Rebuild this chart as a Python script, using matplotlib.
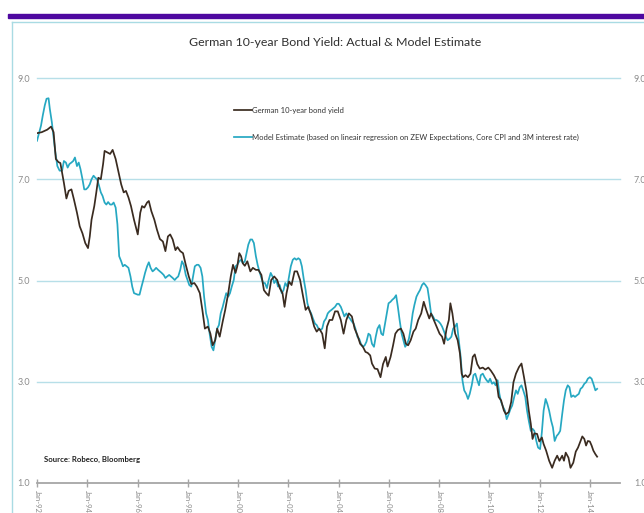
import matplotlib
matplotlib.use("Agg")
import matplotlib.pyplot as plt
from matplotlib.patches import Rectangle
from matplotlib.lines import Line2D

plt.rcParams['font.family'] = ['Lato', 'DejaVu Sans']

# German 10-year bond yield (decimal year, %)
bund_years = [
    1992.00, 1992.19, 1992.41, 1992.56, 1992.66, 1992.75, 1992.85, 1992.93, 1993.00, 1993.07,
    1993.17, 1993.26, 1993.37, 1993.47, 1993.59, 1993.70, 1993.81, 1993.92, 1994.03, 1994.10,
    1994.17, 1994.28, 1994.36, 1994.44, 1994.54, 1994.63, 1994.69, 1994.80, 1994.91, 1995.01,
    1995.13, 1995.25, 1995.35, 1995.45, 1995.54, 1995.64, 1995.74, 1995.86, 1996.01, 1996.11,
    1996.18, 1996.27, 1996.38, 1996.45, 1996.55, 1996.67, 1996.77, 1996.89, 1997.01, 1997.11,
    1997.21, 1997.30, 1997.40, 1997.51, 1997.59, 1997.70, 1997.81, 1997.92, 1998.04, 1998.14,
    1998.26, 1998.36, 1998.48, 1998.58, 1998.68, 1998.80, 1998.90, 1998.99, 1999.09, 1999.17,
    1999.27, 1999.39, 1999.49, 1999.61, 1999.71, 1999.80, 1999.90, 1999.97, 2000.05, 2000.12,
    2000.19, 2000.27, 2000.37, 2000.49, 2000.59, 2000.71, 2000.81, 2000.93, 2001.03, 2001.12,
    2001.22, 2001.32, 2001.44, 2001.56, 2001.66, 2001.77, 2001.85, 2001.93, 2002.03, 2002.13,
    2002.25, 2002.35, 2002.47, 2002.59, 2002.69, 2002.79, 2002.91, 2003.03, 2003.13, 2003.23,
    2003.35, 2003.45, 2003.54, 2003.64, 2003.75, 2003.86, 2003.97, 2004.09, 2004.20, 2004.31,
    2004.41, 2004.53, 2004.64, 2004.75, 2004.86, 2004.97, 2005.07, 2005.16, 2005.26, 2005.33,
    2005.44, 2005.55, 2005.67, 2005.77, 2005.88, 2005.95, 2006.07, 2006.17, 2006.26, 2006.36,
    2006.48, 2006.58, 2006.68, 2006.77, 2006.87, 2006.98, 2007.07, 2007.17, 2007.29, 2007.39,
    2007.49, 2007.61, 2007.68, 2007.79, 2007.90, 2008.02, 2008.12, 2008.20, 2008.30, 2008.39,
    2008.45, 2008.53, 2008.64, 2008.74, 2008.83, 2008.90, 2008.96, 2009.05, 2009.15, 2009.25,
    2009.34, 2009.42, 2009.52, 2009.62, 2009.74, 2009.84, 2009.96, 2010.06, 2010.18, 2010.28,
    2010.37, 2010.47, 2010.58, 2010.66, 2010.77, 2010.87, 2010.96, 2011.06, 2011.18, 2011.28,
    2011.38, 2011.47, 2011.57, 2011.65, 2011.72, 2011.79, 2011.90, 2011.99, 2012.09, 2012.16,
    2012.26, 2012.38, 2012.50, 2012.60, 2012.70, 2012.79, 2012.90, 2012.97, 2013.04, 2013.15,
    2013.23, 2013.34, 2013.44, 2013.53, 2013.63, 2013.70, 2013.78, 2013.85, 2013.92, 2014.00,
    2014.07, 2014.14, 2014.22, 2014.29,
]
bund_yield = [
    7.91, 7.93, 7.98, 8.04, 7.93, 7.40, 7.34, 7.32, 7.13, 6.93,
    6.62, 6.77, 6.80, 6.60, 6.34, 6.07, 5.93, 5.74, 5.64, 5.87,
    6.20, 6.47, 6.74, 7.03, 7.00, 7.30, 7.56, 7.53, 7.50, 7.58,
    7.40, 7.13, 6.90, 6.74, 6.77, 6.64, 6.47, 6.20, 5.91, 6.34,
    6.47, 6.44, 6.54, 6.57, 6.37, 6.20, 6.01, 5.82, 5.77, 5.58,
    5.87, 5.91, 5.81, 5.60, 5.66, 5.58, 5.54, 5.31, 5.08, 4.93,
    4.95, 4.88, 4.75, 4.42, 4.05, 4.09, 3.95, 3.72, 3.82, 4.05,
    3.89, 4.19, 4.42, 4.75, 5.08, 5.31, 5.15, 5.28, 5.54, 5.48,
    5.34, 5.29, 5.38, 5.18, 5.25, 5.21, 5.21, 5.11, 4.81, 4.75,
    4.70, 5.01, 5.08, 5.01, 4.85, 4.75, 4.48, 4.75, 4.98, 4.91,
    5.18, 5.18, 5.01, 4.68, 4.42, 4.48, 4.32, 4.09, 3.99, 4.05,
    3.95, 3.66, 4.09, 4.22, 4.22, 4.39, 4.39, 4.22, 3.95, 4.22,
    4.35, 4.29, 4.05, 3.92, 3.75, 3.69, 3.59, 3.57, 3.52, 3.36,
    3.26, 3.25, 3.09, 3.35, 3.49, 3.30, 3.49, 3.72, 3.95, 4.02,
    4.05, 3.95, 3.75, 3.72, 3.82, 3.99, 4.05, 4.22, 4.35, 4.58,
    4.42, 4.25, 4.35, 4.22, 4.09, 3.95, 3.89, 3.75, 4.05, 4.22,
    4.55, 4.35, 3.95, 3.82, 3.56, 3.16, 3.09, 3.13, 3.09, 3.16,
    3.49, 3.54, 3.35, 3.26, 3.28, 3.24, 3.28, 3.22, 3.13, 3.03,
    2.70, 2.63, 2.43, 2.36, 2.40, 2.60, 2.99, 3.16, 3.29, 3.36,
    3.09, 2.83, 2.43, 2.17, 1.87, 1.98, 1.97, 1.82, 1.90, 1.77,
    1.64, 1.44, 1.30, 1.44, 1.54, 1.44, 1.54, 1.44, 1.60, 1.50,
    1.30, 1.40, 1.62, 1.70, 1.83, 1.92, 1.87, 1.74, 1.83, 1.82,
    1.74, 1.64, 1.57, 1.52,
]

# Model estimate (decimal year, %)
model_years = [
    1992.00, 1992.07, 1992.16, 1992.23, 1992.31, 1992.38, 1992.46, 1992.51, 1992.59, 1992.66,
    1992.73, 1992.81, 1992.90, 1993.00, 1993.07, 1993.15, 1993.22, 1993.29, 1993.37, 1993.44,
    1993.51, 1993.59, 1993.66, 1993.73, 1993.81, 1993.88, 1993.95, 1994.03, 1994.10, 1994.17,
    1994.25, 1994.32, 1994.39, 1994.47, 1994.54, 1994.61, 1994.69, 1994.76, 1994.83, 1994.91,
    1994.98, 1995.05, 1995.13, 1995.20, 1995.27, 1995.35, 1995.42, 1995.49, 1995.57, 1995.64,
    1995.72, 1995.79, 1995.86, 1996.01, 1996.08, 1996.16, 1996.23, 1996.30, 1996.38, 1996.45,
    1996.52, 1996.60, 1996.67, 1996.74, 1996.82, 1996.89, 1996.96, 1997.04, 1997.11, 1997.18,
    1997.26, 1997.33, 1997.40, 1997.48, 1997.55, 1997.62, 1997.70, 1997.77, 1997.84, 1997.92,
    1997.99, 1998.06, 1998.14, 1998.21, 1998.28, 1998.36, 1998.43, 1998.51, 1998.58, 1998.65,
    1998.73, 1998.80, 1998.87, 1998.95, 1999.02, 1999.09, 1999.17, 1999.24, 1999.31, 1999.39,
    1999.46, 1999.53, 1999.61, 1999.68, 1999.75, 1999.83, 1999.90, 1999.97, 2000.05, 2000.12,
    2000.19, 2000.27, 2000.34, 2000.41, 2000.49, 2000.56, 2000.63, 2000.71, 2000.78, 2000.85,
    2000.93, 2001.00, 2001.07, 2001.15, 2001.22, 2001.30, 2001.37, 2001.44, 2001.52, 2001.59,
    2001.66, 2001.74, 2001.81, 2001.88, 2001.96, 2002.03, 2002.10, 2002.18, 2002.25, 2002.32,
    2002.40, 2002.47, 2002.54, 2002.62, 2002.69, 2002.76, 2002.84, 2002.91, 2002.98, 2003.06,
    2003.13, 2003.20, 2003.28, 2003.35, 2003.42, 2003.50, 2003.57, 2003.64, 2003.72, 2003.79,
    2003.86, 2003.94, 2004.01, 2004.09, 2004.16, 2004.23, 2004.31, 2004.38, 2004.45, 2004.53,
    2004.60, 2004.67, 2004.75, 2004.82, 2004.89, 2004.97, 2005.04, 2005.11, 2005.19, 2005.26,
    2005.33, 2005.41, 2005.48, 2005.55, 2005.63, 2005.70, 2005.77, 2005.85, 2005.92, 2005.99,
    2006.07, 2006.14, 2006.21, 2006.29, 2006.36, 2006.43, 2006.51, 2006.58, 2006.65, 2006.73,
    2006.80, 2006.87, 2006.95, 2007.02, 2007.10, 2007.17, 2007.24, 2007.32, 2007.39, 2007.46,
    2007.54, 2007.61, 2007.68, 2007.76, 2007.83, 2007.90, 2007.98, 2008.05, 2008.12, 2008.20,
    2008.27, 2008.34, 2008.42, 2008.49, 2008.56, 2008.64, 2008.71, 2008.78, 2008.86, 2008.93,
    2009.00, 2009.08, 2009.15, 2009.22, 2009.30, 2009.37, 2009.44, 2009.52, 2009.59, 2009.66,
    2009.74, 2009.81, 2009.89, 2009.96, 2010.03, 2010.11, 2010.18, 2010.25, 2010.33, 2010.40,
    2010.47, 2010.55, 2010.62, 2010.69, 2010.77, 2010.84, 2010.91, 2010.99, 2011.06, 2011.13,
    2011.21, 2011.28, 2011.35, 2011.43, 2011.50, 2011.57, 2011.65, 2011.72, 2011.79, 2011.87,
    2011.94, 2012.02, 2012.09, 2012.16, 2012.24, 2012.31, 2012.38, 2012.46, 2012.53, 2012.60,
    2012.68, 2012.75, 2012.82, 2012.90, 2012.97, 2013.04, 2013.12, 2013.19, 2013.26, 2013.34,
    2013.41, 2013.48, 2013.56, 2013.63, 2013.70, 2013.78, 2013.85, 2013.92, 2014.00, 2014.07,
    2014.14, 2014.22, 2014.29,
]
model_yield = [
    7.76, 7.89, 8.06, 8.26, 8.46, 8.59, 8.60, 8.39, 8.13, 7.83,
    7.53, 7.26, 7.17, 7.17, 7.36, 7.33, 7.23, 7.30, 7.33, 7.36,
    7.43, 7.26, 7.33, 7.20, 7.00, 6.80, 6.80, 6.84, 6.90, 7.00,
    7.07, 7.03, 7.00, 6.87, 6.74, 6.67, 6.54, 6.50, 6.55, 6.50,
    6.50, 6.54, 6.44, 6.11, 5.48, 5.38, 5.28, 5.31, 5.28, 5.25,
    5.08, 4.88, 4.75, 4.72, 4.72, 4.88, 5.01, 5.15, 5.28, 5.36,
    5.25, 5.18, 5.21, 5.25, 5.21, 5.18, 5.15, 5.11, 5.05, 5.08,
    5.11, 5.08, 5.05, 5.01, 5.05, 5.08, 5.21, 5.38, 5.31, 5.11,
    5.01, 4.91, 4.88, 5.08, 5.28, 5.31, 5.31, 5.25, 5.08, 4.68,
    4.35, 4.22, 3.95, 3.69, 3.62, 3.82, 4.05, 4.12, 4.35, 4.48,
    4.62, 4.75, 4.68, 4.75, 4.88, 5.01, 5.28, 5.31, 5.38, 5.41,
    5.34, 5.38, 5.54, 5.71, 5.81, 5.81, 5.74, 5.48, 5.31, 5.18,
    5.05, 4.95, 4.95, 4.85, 5.01, 5.15, 5.08, 4.95, 5.01, 4.88,
    4.91, 4.75, 4.81, 4.95, 4.88, 5.08, 5.28, 5.41, 5.44, 5.41,
    5.44, 5.41, 5.28, 5.01, 4.81, 4.55, 4.42, 4.35, 4.25, 4.15,
    4.12, 4.05, 4.02, 4.05, 4.19, 4.25, 4.35, 4.39, 4.42, 4.45,
    4.48, 4.54, 4.54, 4.48, 4.39, 4.29, 4.35, 4.29, 4.25, 4.19,
    4.15, 4.05, 3.89, 3.85, 3.75, 3.69, 3.72, 3.79, 3.95, 3.92,
    3.75, 3.69, 3.89, 4.05, 4.12, 3.95, 3.92, 4.15, 4.35, 4.55,
    4.58, 4.62, 4.65, 4.71, 4.48, 4.22, 3.95, 3.82, 3.69, 3.75,
    3.85, 4.05, 4.35, 4.52, 4.68, 4.75, 4.81, 4.91, 4.95, 4.91,
    4.85, 4.62, 4.35, 4.29, 4.22, 4.22, 4.19, 4.15, 4.09, 3.99,
    3.89, 3.82, 3.85, 3.89, 4.05, 4.09, 4.15, 3.85, 3.49, 3.03,
    2.83, 2.76, 2.66, 2.76, 2.93, 3.13, 3.16, 3.03, 2.93, 3.13,
    3.16, 3.09, 3.03, 2.99, 3.06, 2.96, 2.99, 2.93, 3.03, 2.76,
    2.60, 2.50, 2.43, 2.26, 2.36, 2.46, 2.53, 2.70, 2.83, 2.76,
    2.89, 2.93, 2.83, 2.70, 2.43, 2.23, 2.03, 2.07, 2.03, 1.83,
    1.70, 1.67, 2.00, 2.43, 2.66, 2.56, 2.43, 2.23, 2.10, 1.83,
    1.93, 1.97, 2.03, 2.36, 2.63, 2.83, 2.93, 2.89, 2.70, 2.73,
    2.70, 2.73, 2.76, 2.86, 2.89, 2.96, 2.99, 3.06, 3.09, 3.06,
    2.96, 2.83, 2.86,
]

tick_years = [1992, 1994, 1996, 1998, 2000, 2002, 2004, 2006, 2008, 2010, 2012, 2014]
tick_labels = ["Jan-92", "Jan-94", "Jan-96", "Jan-98", "Jan-00", "Jan-02",
               "Jan-04", "Jan-06", "Jan-08", "Jan-10", "Jan-12", "Jan-14"]
y_ticks = [1.0, 3.0, 5.0, 7.0, 9.0]

BROWN = "#3a2b20"
CYAN = "#26a8c2"
GRID = "#b7dfe8"
AXIS = "#a6a6a6"
LABEL = "#8c8c8c"

fig = plt.figure(figsize=(6.44, 5.13), dpi=100)
W, H = 644, 513

# purple header band and light frame of the slide
fig.patches.append(Rectangle((8 / W, 1 - 18 / H), 1, 4 / H, transform=fig.transFigure,
                             color="#4e08a0", zorder=0))
fig.add_artist(Line2D([12 / W, 12 / W], [0, 1 - 22 / H], transform=fig.transFigure,
                      color="#a9dbe3", lw=1.0))
fig.add_artist(Line2D([12 / W, 1], [1 - 22 / H, 1 - 22 / H], transform=fig.transFigure,
                      color="#a9dbe3", lw=1.0))

fig.text(335 / W, 1 - 42 / H, "German 10-year Bond Yield: Actual & Model Estimate",
         ha="center", va="center", fontsize=8.9, color="#303030")

ax = fig.add_axes([37 / W, 30 / H, 583 / W, 405 / H])
ax.plot(bund_years, bund_yield, color=BROWN, lw=1.25, label="German 10-year bond yield", zorder=3)
ax.plot(model_years, model_yield, color=CYAN, lw=1.25,
        label="Model Estimate (based on lineair regression on ZEW Expectations, "
              "Core CPI and 3M interest rate)", zorder=2)

ax.set_xlim(1992, 2015.2)
ax.set_ylim(1, 9)
ax.set_yticks(y_ticks)
ax.set_yticklabels([f"{v:.1f}" for v in y_ticks])
ax.set_xticks(tick_years)
ax.set_xticklabels(tick_labels, rotation=-90, va="top", ha="center")

for v in y_ticks[1:]:
    ax.axhline(v, color=GRID, lw=1.0, zorder=1, clip_on=False)

for side in ("top", "right", "left"):
    ax.spines[side].set_visible(False)
ax.spines["bottom"].set_color(AXIS)
ax.spines["bottom"].set_linewidth(1.3)

ax.tick_params(axis="y", length=0, pad=5, labelsize=6.5, labelcolor=LABEL)
ax.tick_params(axis="x", direction="inout", length=6, width=1, color=AXIS,
               labelsize=5.5, labelcolor=LABEL, pad=2)

# right-hand copy of the value axis, partly cut off by the slide edge
sec = ax.secondary_yaxis("right")
sec.set_yticks(y_ticks)
sec.set_yticklabels([f"{v:.1f}" for v in y_ticks])
sec.spines["right"].set_visible(False)
sec.tick_params(length=0, pad=10, labelsize=6.5, labelcolor=LABEL)

ax.legend(loc="upper left", bbox_to_anchor=(234 / W, 1 - 107 / H),
          bbox_transform=fig.transFigure, frameon=False, fontsize=5.5,
          handlelength=2.3, handletextpad=0.1, labelspacing=2.6,
          borderpad=0, borderaxespad=0, labelcolor="#333333")

fig.text(44 / W, 1 - 459 / H, "Source: Robeco, Bloomberg", ha="left", va="center",
         fontsize=5.6, fontweight="bold", color="#222222")

fig.savefig("out.png", dpi=100)
